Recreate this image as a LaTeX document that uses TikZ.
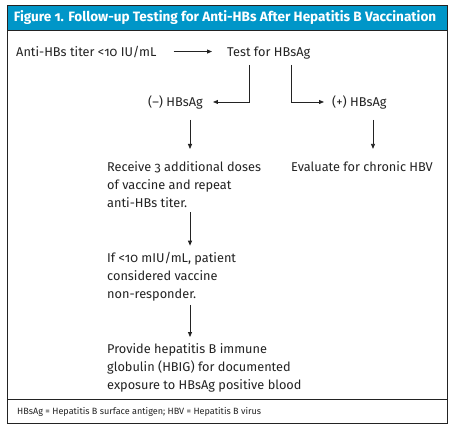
\documentclass[tikz,border=0pt]{standalone}
\usepackage{fontspec}
\setmainfont{Fira Sans}[Numbers=OldStyle]
\usetikzlibrary{arrows.meta,positioning}
\definecolor{banner}{RGB}{0,150,200}
\definecolor{ink}{RGB}{35,35,35}

\begin{document}
\begin{tikzpicture}[x=1bp, y=-1bp,
  txt/.style={anchor=base west, inner sep=0pt, align=left, text=ink, font=\fontsize{12.8}{18}\selectfont},
  arrow/.style={-{Triangle[length=5bp, width=4bp]}, line width=0.8bp, draw=ink},
  frame/.style={line width=1bp, draw=ink},
]
  \useasboundingbox (0,0) rectangle (452,428);
  \fill[white] (0,0) rectangle (452,428);
  % frame and banner
  \draw[frame, fill=banner] (7,5) rectangle (447,30);
  \draw[frame] (7,30) rectangle (447,423);
  \draw[frame] (7,399) -- (447,399);
  \node[text=white, inner sep=0pt, font=\bfseries\fontsize{13.6}{15}\selectfont] (title) at (225,18) {Figure 1. Follow-up Testing for Anti-HBs After Hepatitis B Vaccination};
  % steps (multi-line nodes sit on their last baseline)
  \node[txt] (titer) at (16,56) {Anti-HBs titer <10 IU/mL};
  \node[txt] (test) at (227,56) {Test for HBsAg};
  \node[txt] (neg) at (148,106) {(--) HBsAg};
  \node[txt] (pos) at (332,106) {(+) HBsAg};
  \node[txt] (receive) at (107,207) {Receive 3 additional doses\\of vaccine and repeat\\anti-HBs titer.};
  \node[txt] (evaluate) at (291,171) {Evaluate for chronic HBV};
  \node[txt] (nonresp) at (107,298) {If <10 mIU/mL, patient\\considered vaccine\\non-responder.};
  \node[txt] (hbig) at (107,389) {Provide hepatitis B immune\\globulin (HBIG) for documented\\exposure to HBsAg positive blood};
  \node[txt, font=\fontsize{9.1}{11}\selectfont] (note) at (17,414) {HBsAg = Hepatitis B surface antigen; HBV = Hepatitis B virus};
  % arrows
  \coordinate (lleg) at (249,0);
  \coordinate (rleg) at (291,0);
  \coordinate (lspine) at (190,0);
  \coordinate (rspine) at (373,0);
  \draw[arrow, shorten <=17bp, shorten >=15bp] (titer.east) -- (titer.east -| test.west);
  \draw[arrow, shorten <=6bp, shorten >=10bp] (test.south -| lleg) |- (neg.east);
  \draw[arrow, shorten <=6bp, shorten >=8bp] (test.south -| rleg) |- (pos.west);
  \draw[arrow, shorten <=11bp, shorten >=12bp] (neg.south -| lspine) -- (receive.north -| lspine);
  \draw[arrow, shorten <=11bp, shorten >=12bp] (pos.south -| rspine) -- (evaluate.north -| rspine);
  \draw[arrow, shorten <=5bp, shorten >=6bp] (receive.south -| lspine) -- (nonresp.north -| lspine);
  \draw[arrow, shorten <=4bp, shorten >=6bp] (nonresp.south -| lspine) -- (hbig.north -| lspine);
\end{tikzpicture}
\end{document}
